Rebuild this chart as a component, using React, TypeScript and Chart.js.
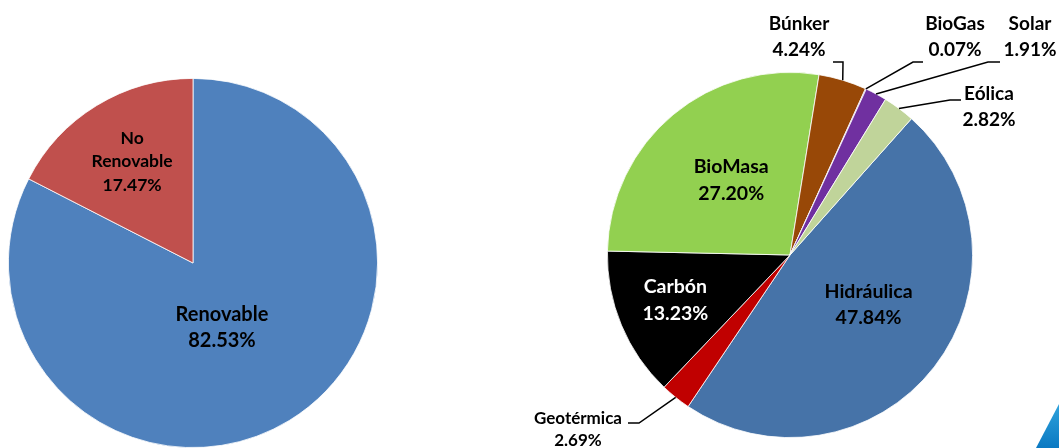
import React, { useEffect, useRef } from "react";
import { Chart, registerables } from "chart.js";

Chart.register(...registerables);

// ---- Data ----
const leftCategories = ["Renovable", "No Renovable"];
const leftValues = [82.53, 17.47];
const leftColors = ["#4F81BD", "#C0504D"];

const rightCategories = ["Hidráulica", "Geotérmica", "Carbón", "BioMasa", "Búnker", "BioGas", "Solar", "Eólica"];
const rightValues = [47.84, 2.69, 13.23, 27.2, 4.24, 0.07, 1.91, 2.82];
const rightColors = ["#4673A8", "#C00000", "#000000", "#92D050", "#984807", "#7030A0", "#7030A0", "#C0D49A"];

// ---- Label layout (styles / placement, not data) ----
type Lay =
  | { kind: "in"; fx: number; fy: number; size: number; lh: number; color: string; split?: boolean }
  | { kind: "out"; elbow: [number, number]; end: [number, number]; text: [number, number]; size: number; lh: number };

const leftLayout: Lay[] = [
  { kind: "in", fx: 0.157, fy: 0.352, size: 20, lh: 26, color: "#000" },
  { kind: "in", fx: -0.33, fy: -0.548, size: 17.5, lh: 23.5, color: "#000", split: true },
];

const rightLayout: Lay[] = [
  { kind: "in", fx: 0.43, fy: 0.273, size: 19.5, lh: 26, color: "#000" },
  { kind: "out", elbow: [-151, 168], end: [-162, 168], text: [-212, 164], size: 17, lh: 22 },
  { kind: "in", fx: -0.628, fy: 0.246, size: 19.5, lh: 27, color: "#fff" },
  { kind: "in", fx: -0.322, fy: -0.41, size: 19.5, lh: 27, color: "#000" },
  { kind: "out", elbow: [53, -193], end: [43, -193], text: [9, -231], size: 19, lh: 26 },
  { kind: "out", elbow: [123, -193], end: [133, -193], text: [165, -231], size: 19, lh: 26 },
  { kind: "out", elbow: [198, -193], end: [210, -193], text: [240, -231], size: 19, lh: 26 },
  { kind: "out", elbow: [160, -155], end: [171, -155], text: [199, -161], size: 19, lh: 26 },
];

const FONT = "Lato, 'Open Sans', sans-serif";

function makeLabelPlugin(categories: string[], values: number[], layout: Lay[]) {
  return {
    id: "sliceLabels",
    afterDatasetsDraw(chart: any) {
      const ctx: CanvasRenderingContext2D = chart.ctx;
      const meta = chart.getDatasetMeta(0);
      ctx.save();
      ctx.textAlign = "center";
      ctx.textBaseline = "middle";
      meta.data.forEach((arc: any, i: number) => {
        const lay = layout[i];
        if (!lay) return;
        const p = arc.getProps(["x", "y", "startAngle", "endAngle", "outerRadius"], true);
        const cx = p.x, cy = p.y, r = p.outerRadius;
        const mid = (p.startAngle + p.endAngle) / 2;
        const name = categories[i];
        const pct = values[i].toFixed(2) + "%";
        const lines = lay.kind === "in" && lay.split ? [...name.split(" "), pct] : [name, pct];
        ctx.font = `bold ${lay.size}px ${FONT}`;
        if (lay.kind === "in") {
          ctx.fillStyle = lay.color;
          const bx = cx + lay.fx * r;
          const by = cy + lay.fy * r;
          const y0 = by - ((lines.length - 1) * lay.lh) / 2;
          lines.forEach((t, k) => ctx.fillText(t, bx, y0 + k * lay.lh));
        } else {
          const ax = cx + Math.cos(mid) * r;
          const ay = cy + Math.sin(mid) * r;
          ctx.strokeStyle = "#000";
          ctx.lineWidth = 1.5;
          ctx.beginPath();
          ctx.moveTo(ax, ay);
          ctx.lineTo(cx + lay.elbow[0], cy + lay.elbow[1]);
          ctx.lineTo(cx + lay.end[0], cy + lay.end[1]);
          ctx.stroke();
          ctx.fillStyle = "#000";
          lines.forEach((t, k) => ctx.fillText(t, cx + lay.text[0], cy + lay.text[1] + k * lay.lh));
        }
      });
      ctx.restore();
    },
  };
}

function PieCanvas(props: {
  categories: string[];
  values: number[];
  colors: string[];
  layout: Lay[];
  rotation: number;
  padding: { left: number; top: number; right: number; bottom: number };
  style: React.CSSProperties;
  width: number;
  height: number;
}) {
  const ref = useRef<HTMLCanvasElement>(null);
  useEffect(() => {
    if (!ref.current) return;
    const chart = new Chart(ref.current, {
      type: "pie",
      data: {
        labels: props.categories,
        datasets: [
          {
            data: props.values,
            backgroundColor: props.colors,
            borderColor: "#ffffff",
            borderWidth: 0.8,
            hoverOffset: 0,
          },
        ],
      },
      options: {
        animation: false,
        responsive: false,
        maintainAspectRatio: false,
        rotation: props.rotation,
        layout: { padding: props.padding },
        plugins: { legend: { display: false }, tooltip: { enabled: false } },
        events: [],
      },
      plugins: [makeLabelPlugin(props.categories, props.values, props.layout)],
    });
    return () => chart.destroy();
  }, []);
  return <canvas ref={ref} width={props.width} height={props.height} style={{ position: "absolute", ...props.style }} />;
}

export default function App() {
  return (
    <div style={{ position: "absolute", left: 0, top: 0, width: 1059, height: 448, overflow: "hidden", background: "#fff" }}>
      <PieCanvas
        categories={leftCategories}
        values={leftValues}
        colors={leftColors}
        layout={leftLayout}
        rotation={0}
        padding={{ left: 8, top: 9, right: 22, bottom: 0 }}
        width={400}
        height={379}
        style={{ left: 0, top: 69, width: 400, height: 379 }}
      />
      <PieCanvas
        categories={rightCategories}
        values={rightValues}
        colors={rightColors}
        layout={rightLayout}
        rotation={41.7}
        padding={{ left: 107, top: 72, right: 86, bottom: 10 }}
        width={559}
        height={448}
        style={{ left: 500, top: 0, width: 559, height: 448 }}
      />
      <div
        style={{
          position: "absolute",
          left: 1036,
          top: 404,
          width: 23,
          height: 44,
          background: "linear-gradient(180deg, #2FA3DC 0%, #0B79C2 100%)",
          clipPath: "polygon(100% 0%, 100% 100%, 0% 100%)",
        }}
      />
    </div>
  );
}
